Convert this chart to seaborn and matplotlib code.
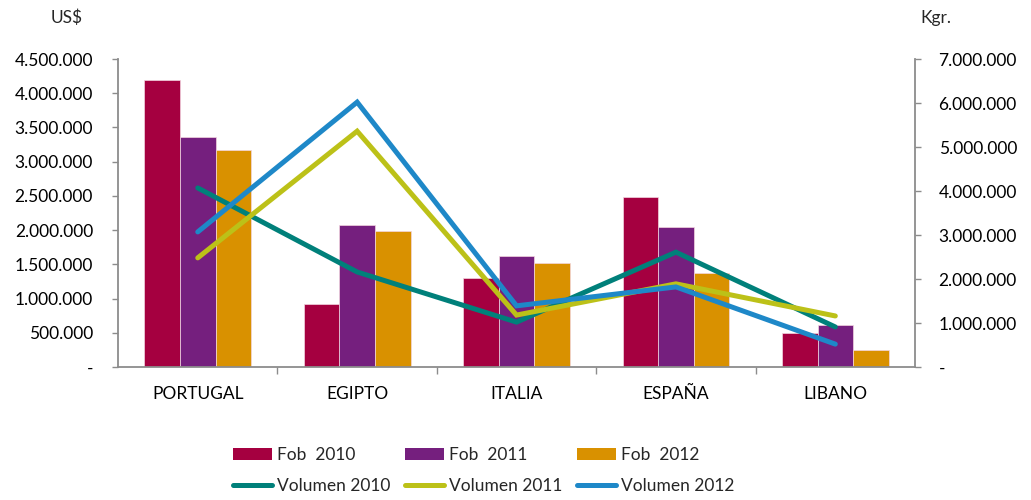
import numpy as np
import pandas as pd
import matplotlib
matplotlib.use("Agg")
import matplotlib.pyplot as plt
from matplotlib.ticker import FuncFormatter, FixedLocator
from matplotlib.patches import Patch
from matplotlib.lines import Line2D
import seaborn as sns

countries = ["PORTUGAL", "EGIPTO", "ITALIA", "ESPAÑA", "LIBANO"]
fob_2010 = [4190000, 920000, 1300000, 2480000, 500000]
fob_2011 = [3360000, 2070000, 1620000, 2050000, 610000]
fob_2012 = [3170000, 1990000, 1520000, 1380000, 250000]
vol_2010 = [4070000, 2160000, 1020000, 2610000, 910000]
vol_2011 = [2480000, 5360000, 1180000, 1890000, 1160000]
vol_2012 = [3070000, 6020000, 1390000, 1820000, 520000]
fob_labels = ["Fob  2010", "Fob  2011", "Fob  2012"]
vol_labels = ["Volumen 2010", "Volumen 2011", "Volumen 2012"]
bar_colors = ["#A50040", "#751F7E", "#D99100"]
line_colors = ["#00807A", "#BCC118", "#1E88C8"]

sns.set_style("white")
plt.rcParams["font.family"] = ["Lato", "DejaVu Sans"]
FS = 12.5

bars_df = pd.DataFrame({
    "country": countries * 3,
    "value": fob_2010 + fob_2011 + fob_2012,
    "serie": sum([[l] * len(countries) for l in fob_labels], []),
})
pos = list(range(len(countries)))
lines_df = pd.DataFrame({
    "x": pos * 3,
    "value": vol_2010 + vol_2011 + vol_2012,
    "serie": sum([[l] * len(countries) for l in vol_labels], []),
})

fig = plt.figure(figsize=(10.31, 5.0), dpi=100)
ax = fig.add_axes([0.1145, 0.266, 0.773, 0.616])
sns.barplot(data=bars_df, x="country", y="value", hue="serie", order=countries,
            hue_order=fob_labels, palette=bar_colors, width=0.67, ax=ax,
            edgecolor="#f3d6e0", linewidth=0.5, saturation=1, legend=False)
ax.set_ylim(0, 4500000)
ax.set_xlim(-0.5, len(countries) - 0.5)

ax2 = ax.twinx()
sns.lineplot(data=lines_df, x="x", y="value", hue="serie", hue_order=vol_labels,
             palette=line_colors, linewidth=3.6, ax=ax2, legend=False, sort=False)
for ln in ax2.lines:
    ln.set_solid_capstyle("round")
    ln.set_solid_joinstyle("miter")
ax2.set_ylim(0, 7000000)
ax2.set_xlim(-0.5, len(countries) - 0.5)

def fmt(v, p):
    if v == 0:
        return "-"
    return f"{int(round(v)):,}".replace(",", ".")

ax.yaxis.set_major_locator(FixedLocator(np.arange(0, 4500001, 500000)))
ax.yaxis.set_major_formatter(FuncFormatter(fmt))
ax2.yaxis.set_major_locator(FixedLocator(np.arange(0, 7000001, 1000000)))
ax2.yaxis.set_major_formatter(FuncFormatter(fmt))

gray = "#8c8c8c"
for a in (ax, ax2):
    a.spines["top"].set_visible(False)
    for s in ["left", "right", "bottom"]:
        a.spines[s].set_color(gray)
        a.spines[s].set_linewidth(1.3)
    a.set_xlabel("")
    a.set_ylabel("")
    a.grid(False)
ax.spines["right"].set_visible(False)
ax2.spines["left"].set_visible(False)
ax2.spines["bottom"].set_visible(False)

ax.tick_params(axis="y", left=True, length=4, width=1, color=gray, labelsize=FS, pad=14, labelcolor="#000000")
ax2.tick_params(axis="y", right=True, length=4, width=1, color=gray, labelsize=FS, pad=13, labelcolor="#000000")
ax.set_xticks(pos)
ax.set_xticklabels(countries)
ax.tick_params(axis="x", which="major", length=0, labelsize=FS, pad=14, labelcolor="#000000")
ax.xaxis.set_minor_locator(FixedLocator(np.arange(0.5, len(countries) - 1, 1.0)))
ax.tick_params(axis="x", which="minor", bottom=True, length=5, width=1, color=gray)

fig.text(67 / 1031, 1 - 18 / 500, "US$", ha="center", va="center", fontsize=FS)
fig.text(936 / 1031, 1 - 18 / 500, "Kgr.", ha="center", va="center", fontsize=FS)

handles = []
labels = []
for i in range(3):
    handles.append(Patch(facecolor=bar_colors[i], edgecolor="none"))
    labels.append(fob_labels[i])
    handles.append(Line2D([0], [0], color=line_colors[i], linewidth=3.6, solid_capstyle="round"))
    labels.append(vol_labels[i])
leg = fig.legend(handles, labels, ncol=3, loc="upper left", bbox_to_anchor=(233 / 1031, 1 - 447 / 500),
                 frameon=False, fontsize=FS, handlelength=2.25, handleheight=0.7,
                 handletextpad=0.3, columnspacing=0.82, labelspacing=0.85,
                 borderpad=0, borderaxespad=0)

fig.savefig("out.png", dpi=100)
